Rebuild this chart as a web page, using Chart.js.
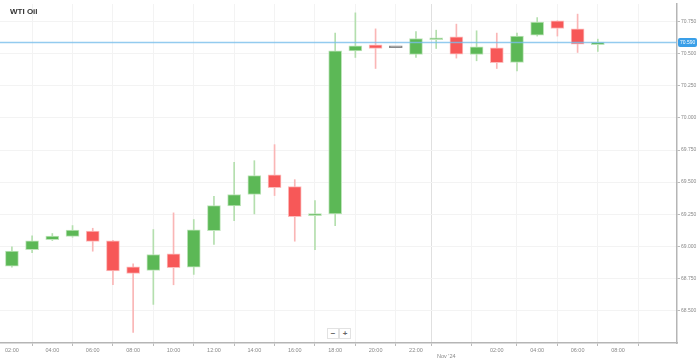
<!DOCTYPE html>
<html>
<head>
<meta charset="utf-8">
<script src="https://cdn.jsdelivr.net/npm/chart.js@4"></script>
<style>
    html, body { margin: 0; padding: 0; background: #fff; }
    #wrap { position: relative; width: 699px; height: 362px; }
    #titulo { position: absolute; left: 10px; top: 7px; font: bold 8px 'Liberation Sans', Arial, sans-serif; color: #333; }
    .zoom-btn { position: absolute; top: 328px; width: 10px; height: 9px; border: 1px solid #e2e2e2; background: #fff;
        font: bold 8px 'Liberation Sans', Arial, sans-serif; color: #666; text-align: center; line-height: 9px; }
</style>
</head>
<body>
<div id="wrap">
    <canvas id="chart-wti" width="699" height="362"></canvas>
    <div id="titulo">WTI Oil</div>
    <div class="zoom-btn" style="left:327px">−</div>
    <div class="zoom-btn" style="left:339px">+</div>
</div>
<script>
// Velas horarias WTI (hora 24+ = día siguiente)
const horas = [2, 3, 4, 5, 6, 7, 8, 9, 10, 11, 12, 13, 14, 15, 16, 17, 18, 19, 20, 21, 22, 23, 24, 25, 26, 27, 28, 29, 30, 31];
const apertura = [68.844, 68.972, 69.050, 69.076, 69.117, 69.042, 68.840, 68.811, 68.941, 68.836, 69.122, 69.315, 69.403, 69.556, 69.465,
    69.239, 69.252, 70.524, 70.571, 70.548, 70.495, 70.610, 70.633, 70.495, 70.548, 70.433, 70.646, 70.758, 70.695, 70.571];
const maximo = [68.995, 69.081, 69.099, 69.161, 69.140, 69.045, 68.863, 69.130, 69.260, 69.208, 69.389, 69.654, 69.667, 69.792, 69.519,
    69.356, 70.662, 70.820, 70.695, 70.548, 70.674, 70.685, 70.732, 70.680, 70.662, 70.662, 70.783, 70.758, 70.810, 70.615];
const minimo = [68.836, 68.949, 69.044, 69.070, 68.961, 68.699, 68.328, 68.546, 68.699, 68.780, 69.013, 69.200, 69.252, 69.395, 69.039,
    68.972, 69.161, 70.472, 70.386, 70.548, 70.472, 70.542, 70.467, 70.446, 70.386, 70.368, 70.639, 70.639, 70.511, 70.519];
const cierre = [68.961, 69.042, 69.078, 69.125, 69.037, 68.808, 68.787, 68.935, 68.832, 69.128, 69.317, 69.403, 69.551, 69.457, 69.231,
    69.250, 70.524, 70.563, 70.542, 70.548, 70.620, 70.623, 70.498, 70.555, 70.431, 70.639, 70.748, 70.698, 70.576, 70.592];

const ticksX = [2, 4, 6, 8, 10, 12, 14, 16, 18, 20, 22, 23.5, 26, 28, 30, 32];
const ticksY = [68.5, 68.75, 69.0, 69.25, 69.5, 69.75, 70.0, 70.25, 70.5, 70.75];
const precioActual = 70.590;

const FUENTE = "'Liberation Sans', Arial, sans-serif";

function colorVela(i, subir, bajar, plano) {
    if (cierre[i] > apertura[i]) return subir;
    if (cierre[i] < apertura[i]) return bajar;
    return plano;
}

function hh(v) {
    const h = v % 24;
    return (h < 10 ? '0' : '') + h + ':00';
}

// Linea y etiqueta del precio actual
const lineaPrecio = {
    id: 'lineaPrecio',
    afterDatasetsDraw(chart) {
        const { ctx, chartArea, scales } = chart;
        const y = Math.round(scales.y.getPixelForValue(precioActual)) + 0.5;
        ctx.save();
        ctx.strokeStyle = 'rgba(120, 190, 235, 0.8)';
        ctx.lineWidth = 1.5;
        ctx.beginPath();
        ctx.moveTo(chartArea.left, y);
        ctx.lineTo(chartArea.right, y);
        ctx.stroke();
        ctx.fillStyle = '#3a9fe8';
        ctx.beginPath();
        ctx.roundRect(chartArea.right + 1, y - 4.5, 19, 9, 2);
        ctx.fill();
        ctx.fillStyle = '#fff';
        ctx.font = '5px ' + FUENTE;
        ctx.textBaseline = 'middle';
        ctx.fillText(precioActual.toFixed(3), chartArea.right + 3, y + 0.5);
        ctx.restore();
    }
};

const ctx = document.getElementById('chart-wti');

new Chart(ctx, {
    type: 'bar',
    data: {
        datasets: [{
            label: 'Cuerpo',
            data: horas.map((h, i) => ({ x: h, y: [apertura[i], cierre[i]] })),
            backgroundColor: horas.map((h, i) => colorVela(i, 'rgb(92, 184, 86)', 'rgb(247, 88, 88)', '#8a8a8a')),
            borderColor: horas.map((h, i) => colorVela(i, 'rgb(190, 228, 186)', 'rgb(252, 188, 188)', '#8a8a8a')),
            borderWidth: 1,
            borderSkipped: false,
            barThickness: 13,
            minBarLength: 2,
            order: 0
        }, {
            label: 'Mecha',
            data: horas.map((h, i) => ({ x: h, y: [minimo[i], maximo[i]] })),
            backgroundColor: horas.map((h, i) => colorVela(i, 'rgb(180, 223, 174)', 'rgb(250, 182, 182)', '#8a8a8a')),
            borderWidth: 0,
            barThickness: 1,
            order: 1
        }]
    },
    options: {
        responsive: false,
        animation: false,
        grouped: false,
        plugins: {
            legend: { display: false },
            tooltip: { enabled: false }
        },
        scales: {
            x: {
                type: 'linear',
                min: 1.41,
                max: 34.92,
                offset: false,
                afterBuildTicks: scale => { scale.ticks = ticksX.map(v => ({ value: v })); },
                afterFit: scale => { scale.height = 19; },
                grid: {
                    color: c => (c.tick && c.tick.value === 23.5) ? '#e0e0e0' : '#f3f3f3',
                    tickColor: '#bbb',
                    tickLength: 3
                },
                border: { color: '#b5b5b5', width: 1.5 },
                ticks: {
                    autoSkip: false,
                    maxRotation: 0,
                    padding: 1,
                    color: '#888',
                    font: { family: FUENTE, size: 5.5 },
                    callback: v => v === 23.5 ? ['', "Nov '24"] : hh(v)
                }
            },
            y: {
                position: 'right',
                min: 68.245,
                max: 70.889,
                afterBuildTicks: scale => { scale.ticks = ticksY.map(v => ({ value: v })); },
                afterFit: scale => { scale.width = 22; },
                grid: {
                    color: '#f3f3f3',
                    tickColor: '#bbb',
                    tickLength: 3
                },
                border: { color: '#b5b5b5', width: 1.5 },
                ticks: {
                    padding: 1,
                    color: '#888',
                    font: { family: FUENTE, size: 5 },
                    callback: v => v.toFixed(3)
                }
            }
        }
    },
    plugins: [lineaPrecio]
});
</script>
</body>
</html>
